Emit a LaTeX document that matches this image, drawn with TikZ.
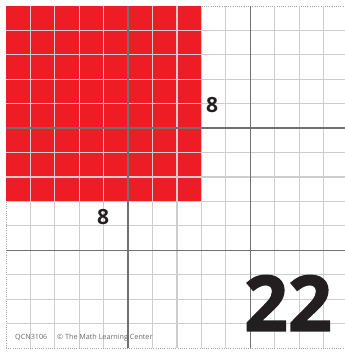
\documentclass[tikz,border=0pt]{standalone}
\usepackage{fontspec}
\setmainfont{Open Sans}
\newfontfamily\heavyfont[BoldFeatures={FakeBold=1.6}]{Open Sans}
\definecolor{cardred}{HTML}{EE1C25}
\definecolor{thin}{HTML}{CDCDCD}
\definecolor{thick}{HTML}{707070}
\definecolor{ink}{HTML}{231F20}
\definecolor{foot}{HTML}{6A6A6A}
\tikzset{
  thinline/.style={draw=thin, line width=1.2pt},
  thickline/.style={draw=thick, line width=1.4pt},
  perf/.style={draw=gray!70, line width=0.8pt, dash pattern=on 1pt off 1.2pt},
  lab/.style={font=\bfseries\fontsize{21}{21}\selectfont, text=ink, inner sep=0pt},
  bignum/.style={font=\heavyfont\bfseries\fontsize{77}{77}\selectfont, text=ink, inner sep=0pt},
  footer/.style={font=\fontsize{7.2}{7.2}\selectfont, text=foot, inner sep=0pt}
}
\begin{document}
\begin{tikzpicture}[x=1pt,y=-1pt]
\useasboundingbox (0,0) rectangle (345,357);
\fill[white] (0,0) rectangle (345,357);
\pgfmathsetmacro{\s}{24.43}
% perforation borders
\draw[perf] (6,6) -- (345,6);
\draw[perf] (6,6) -- (6,348);
\draw[perf] (6,348) -- (345,348);
% red square 8x8
\fill[cardred] (6,6) rectangle ({6+8*\s},{6+8*\s});
% thin grid
\foreach \i in {1,...,13} {
  \draw[thinline] ({6+\i*\s},6) -- ({6+\i*\s},348);
  \draw[thinline] (6,{6+\i*\s}) -- (345,{6+\i*\s});
}
% thick lines every 5
\foreach \i in {5,10} {
  \draw[thickline] ({6+\i*\s},6) -- ({6+\i*\s},348);
  \draw[thickline] (6,{6+\i*\s}) -- (345,{6+\i*\s});
}
% labels
\node[lab] (rightlabel) at (212,105) {8};
\node[lab] (bottomlabel) at (103,217) {8};
\node[bignum] (number) at (288,303) {22};
\node[footer, anchor=base west] (credit) at (15,339.5) {QCN3106\hspace{10pt}© The Math Learning Center};
\end{tikzpicture}
\end{document}
